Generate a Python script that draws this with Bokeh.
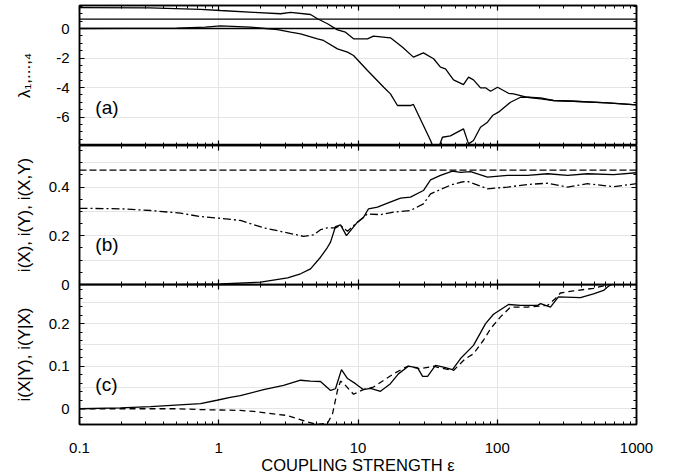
from bokeh.plotting import figure
from bokeh.models import LinearAxis, LogAxis, FixedTicker, CustomJSTickFormatter, Label, Range1d
from bokeh.layouts import column
from bokeh.embed import file_html
from bokeh.resources import INLINE

FONT = "Liberation Sans"

# ---------------- data ----------------
x_ends = [0.1, 1000]

# panel (a): Lyapunov exponents
lam_const_1 = 0.63
lam_const_2 = 0.0
lam_a_x = [0.1, 0.32, 0.74, 1.03, 1.78, 2.78, 3.28, 4.56, 5.12, 6.04, 7.12, 8.13, 9.29, 11.7, 12.9,
           17.1, 20.9, 25.0, 29.5, 34.9, 39.1, 42.5, 48.5, 57.2, 62.2, 67.5, 75.8, 82.4, 89.5,
           100.5, 120.5, 131, 165, 205, 253, 353, 619, 1000]
lam_a_y = [1.42, 1.40, 1.30, 1.22, 1.10, 1.00, 1.10, 0.95, 0.66, 0.32, -0.09, -0.25, -0.70, -0.70, -0.52,
           -0.63, -1.27, -1.94, -1.65, -2.05, -2.62, -2.73, -3.48, -3.80, -3.30, -3.48, -4.02, -4.02, -4.25,
           -3.98, -4.39, -4.43, -4.66, -4.77, -4.88, -4.93, -5.04, -5.18]
lam_b_x = [0.1, 0.5, 0.8, 1.03, 1.69, 2.64, 3.28, 3.87, 5.12, 5.65, 7.12, 8.41, 9.29, 11.7, 15.3,
           17.1, 19.2, 23.8, 25.0, 29.5, 33.2, 34.9, 37.9, 40.4, 46.1, 57.2, 62.2, 67.5, 75.8,
           85.1, 92.5, 102, 124.5, 147, 165, 205, 253, 353, 619, 1000]
lam_b_y = [0.0, 0.03, 0.10, 0.18, 0.09, -0.07, -0.25, -0.36, -0.70, -0.81, -1.38, -1.60, -1.83, -2.85, -3.98,
           -4.43, -5.22, -5.22, -5.15, -6.58, -7.59, -8.10, -8.10, -7.37, -7.28, -6.80, -7.82, -7.59, -6.69,
           -6.35, -5.90, -5.67, -5.00, -4.66, -4.66, -4.70, -4.88, -4.93, -5.04, -5.18]

# panel (b): i(X), i(Y), i(X,Y)
iY_const = 0.47
iX_x = [0.1, 0.5, 1.03, 2.0, 3.12, 3.87, 4.56, 5.38, 6.04, 6.35, 6.89, 7.49, 8.26, 9.91, 10.9,
        11.9, 13.8, 16.3, 20.2, 23.8, 29.5, 33.2, 39.1, 47.7, 54.5, 64.3, 85.1, 118.5, 165, 230,
        320, 445, 684, 1000]
iX_y = [0.0, 0.0, 0.002, 0.01, 0.027, 0.044, 0.064, 0.112, 0.153, 0.174, 0.238, 0.245, 0.201, 0.256, 0.274,
        0.311, 0.318, 0.334, 0.355, 0.359, 0.386, 0.430, 0.448, 0.466, 0.461, 0.464, 0.441, 0.448, 0.448, 0.455,
        0.448, 0.455, 0.451, 0.459]
iXY_x = [0.1, 0.197, 0.324, 0.531, 0.74, 1.03, 1.43, 2.10, 3.12, 4.06, 4.79, 5.38, 6.04, 6.89, 7.49,
         8.41, 9.91, 11.7, 14.5, 18.0, 23.8, 29.5, 33.2, 39.1, 46.1, 54.5, 61.1, 85.1, 118.5, 165,
         230, 320, 445, 684, 1000]
iXY_y = [0.313, 0.311, 0.304, 0.293, 0.279, 0.272, 0.263, 0.233, 0.212, 0.198, 0.204, 0.225, 0.233, 0.233, 0.242,
         0.219, 0.256, 0.290, 0.287, 0.297, 0.304, 0.331, 0.372, 0.390, 0.408, 0.420, 0.424, 0.393, 0.400, 0.411,
         0.416, 0.400, 0.414, 0.402, 0.414]

# panel (c): i(X|Y), i(Y|X)
iXgY_x = [0.1, 0.197, 0.324, 0.74, 0.97, 1.21, 1.43, 2.10, 2.92, 3.87, 4.56, 5.38, 6.35, 6.89, 7.61,
          8.41, 9.59, 10.9, 12.3, 14.5, 17.1, 19.5, 23.0, 26.8, 29.1, 31.6, 36.0, 41.1, 47.7, 54.5,
          67.5, 82.4, 94.0, 120.5, 147, 194.5, 205, 241, 275, 396, 491, 580, 619, 700, 1000]
iXgY_y = [0.0, 0.002, 0.005, 0.012, 0.020, 0.027, 0.031, 0.045, 0.055, 0.067, 0.065, 0.064, 0.043, 0.047, 0.092,
          0.071, 0.059, 0.045, 0.048, 0.041, 0.059, 0.082, 0.100, 0.096, 0.076, 0.076, 0.102, 0.098, 0.092, 0.118,
          0.149, 0.200, 0.222, 0.245, 0.243, 0.243, 0.247, 0.239, 0.263, 0.261, 0.270, 0.278, 0.286, 0.298, 0.33]
iYgX_x = [0.1, 0.5, 0.74, 1.43, 1.78, 3.12, 4.34, 5.12, 6.04, 6.56, 7.12, 7.49, 7.87, 9.29, 10.9,
          12.9, 15.3, 18.0, 22.7, 28.1, 34.9, 39.1, 48.5, 59.2, 67.5, 79.6, 89.5, 105.5, 124.5, 165,
          230, 262, 284, 353, 491, 619, 700, 1000]
iYgX_y = [0.0, 0.0, -0.002, -0.004, -0.006, -0.016, -0.031, -0.037, -0.034, -0.012, 0.043, 0.065, 0.060, 0.034, 0.045,
          0.051, 0.067, 0.082, 0.100, 0.094, 0.100, 0.096, 0.090, 0.118, 0.129, 0.161, 0.188, 0.216, 0.239, 0.239,
          0.243, 0.259, 0.272, 0.277, 0.283, 0.291, 0.300, 0.32]

x_major = [0.1, 1, 10, 100, 1000]
x_minor = [m * 10.0 ** e for e in range(-1, 3) for m in range(2, 10)]
a_major = [-6, -4, -2, 0]
a_minor = [v * 0.5 for v in range(-15, 4)]
b_major = [0, 0.2, 0.4]
b_minor = [v * 0.05 for v in range(0, 12)]
c_major = [0, 0.1, 0.2]
c_minor = [v * 0.02 for v in range(-1, 15)]

# ---------------- helpers ----------------
def fmt():
    return CustomJSTickFormatter(code="return Number(tick.toFixed(4)).toString();")


def make_fig(yr, frame_h, top_b, bottom_b):
    p = figure(frame_width=557, frame_height=frame_h, x_axis_type="log",
               x_range=Range1d(0.1, 1000), y_range=Range1d(*yr),
               output_backend="svg", toolbar_location=None,
               x_axis_location=None, y_axis_location=None,
               min_border_left=79, min_border_right=20,
               min_border_top=top_b, min_border_bottom=bottom_b)
    p.outline_line_color = "black"
    p.outline_line_width = 1.5
    p.background_fill_color = "white"
    p.border_fill_color = "white"
    return p


def style_ticks(ax):
    ax.major_tick_in = 5
    ax.major_tick_out = 0
    ax.minor_tick_in = 3
    ax.minor_tick_out = 0
    ax.axis_line_width = 1.5
    ax.major_tick_line_width = 1.2
    ax.minor_tick_line_width = 1


def add_x_axes(p, labels):
    for loc in ("above", "below"):
        ax = LogAxis(ticker=FixedTicker(ticks=x_major, minor_ticks=x_minor), formatter=fmt())
        style_ticks(ax)
        if loc == "below" and labels:
            ax.major_label_text_font = FONT
            ax.major_label_text_font_size = "15px"
            ax.major_label_text_color = "black"
            ax.major_label_standoff = 18
            ax.axis_label = "COUPLING STRENGTH ε"
            ax.axis_label_text_font = FONT
            ax.axis_label_text_font_size = "16.5px"
            ax.axis_label_text_font_style = "normal"
            ax.axis_label_text_color = "black"
            ax.axis_label_standoff = 0
        else:
            ax.major_label_text_color = None
            ax.major_label_standoff = 0
        p.add_layout(ax, loc)


def add_y_axes(p, major, minor, title, title_standoff):
    for loc in ("left", "right"):
        ax = LinearAxis(ticker=FixedTicker(ticks=major, minor_ticks=minor), formatter=fmt())
        style_ticks(ax)
        if loc == "left":
            ax.major_label_text_font = FONT
            ax.major_label_text_font_size = "15px"
            ax.major_label_text_color = "black"
            ax.major_label_standoff = 10
            ax.axis_label = title
            ax.axis_label_text_font = FONT
            ax.axis_label_text_font_size = "17px"
            ax.axis_label_text_font_style = "normal"
            ax.axis_label_text_color = "black"
            ax.axis_label_standoff = title_standoff
        else:
            ax.major_label_text_color = None
            ax.major_label_standoff = 0
        p.add_layout(ax, loc)


def panel_label(p, y, text):
    p.add_layout(Label(x=0.13, y=y, text=text, text_baseline="middle",
                       text_font=FONT, text_font_size="19px", text_color="black"))


LW = 1.3

# ---------------- panel (a) ----------------
pa = make_fig((-7.93, 1.56), 140, 5, 0)
add_x_axes(pa, False)
add_y_axes(pa, a_major, a_minor, "λ₁,...,₄", 19)
pa.line(x_ends, [lam_const_1, lam_const_1], line_color="black", line_width=LW)
pa.line(x_ends, [lam_const_2, lam_const_2], line_color="black", line_width=LW)
pa.line(lam_a_x, lam_a_y, line_color="black", line_width=LW)
pa.line(lam_b_x, lam_b_y, line_color="black", line_width=LW)
panel_label(pa, -5.36, "(a)")

# ---------------- panel (b) ----------------
pb = make_fig((0, 0.571), 139, 0, 10)
add_x_axes(pb, False)
add_y_axes(pb, b_major, b_minor, "i(X), i(Y), i(X,Y)", 12)
pb.line(x_ends, [iY_const, iY_const], line_color="black", line_width=LW, line_dash="7 3")
pb.line(iXY_x, iXY_y, line_color="black", line_width=LW, line_dash="8 3 2 3")
pb.line(iX_x, iX_y, line_color="black", line_width=LW)
panel_label(pb, 0.166, "(b)")

# ---------------- panel (c) ----------------
pc = make_fig((-0.037, 0.292), 140, 0, 10)
pc.background_fill_alpha = 0
pc.border_fill_alpha = 0
pc.margin = (-10, 0, 0, 0)
add_x_axes(pc, True)
add_y_axes(pc, c_major, c_minor, "i(X|Y), i(Y|X)", 12)
pc.line(iYgX_x, iYgX_y, line_color="black", line_width=LW, line_dash="6 4")
pc.line(iXgY_x, iXgY_y, line_color="black", line_width=LW)
panel_label(pc, 0.058, "(c)")

layout = column(pa, pb, pc, spacing=0)
open("out.html", "w").write(file_html(layout, INLINE))
